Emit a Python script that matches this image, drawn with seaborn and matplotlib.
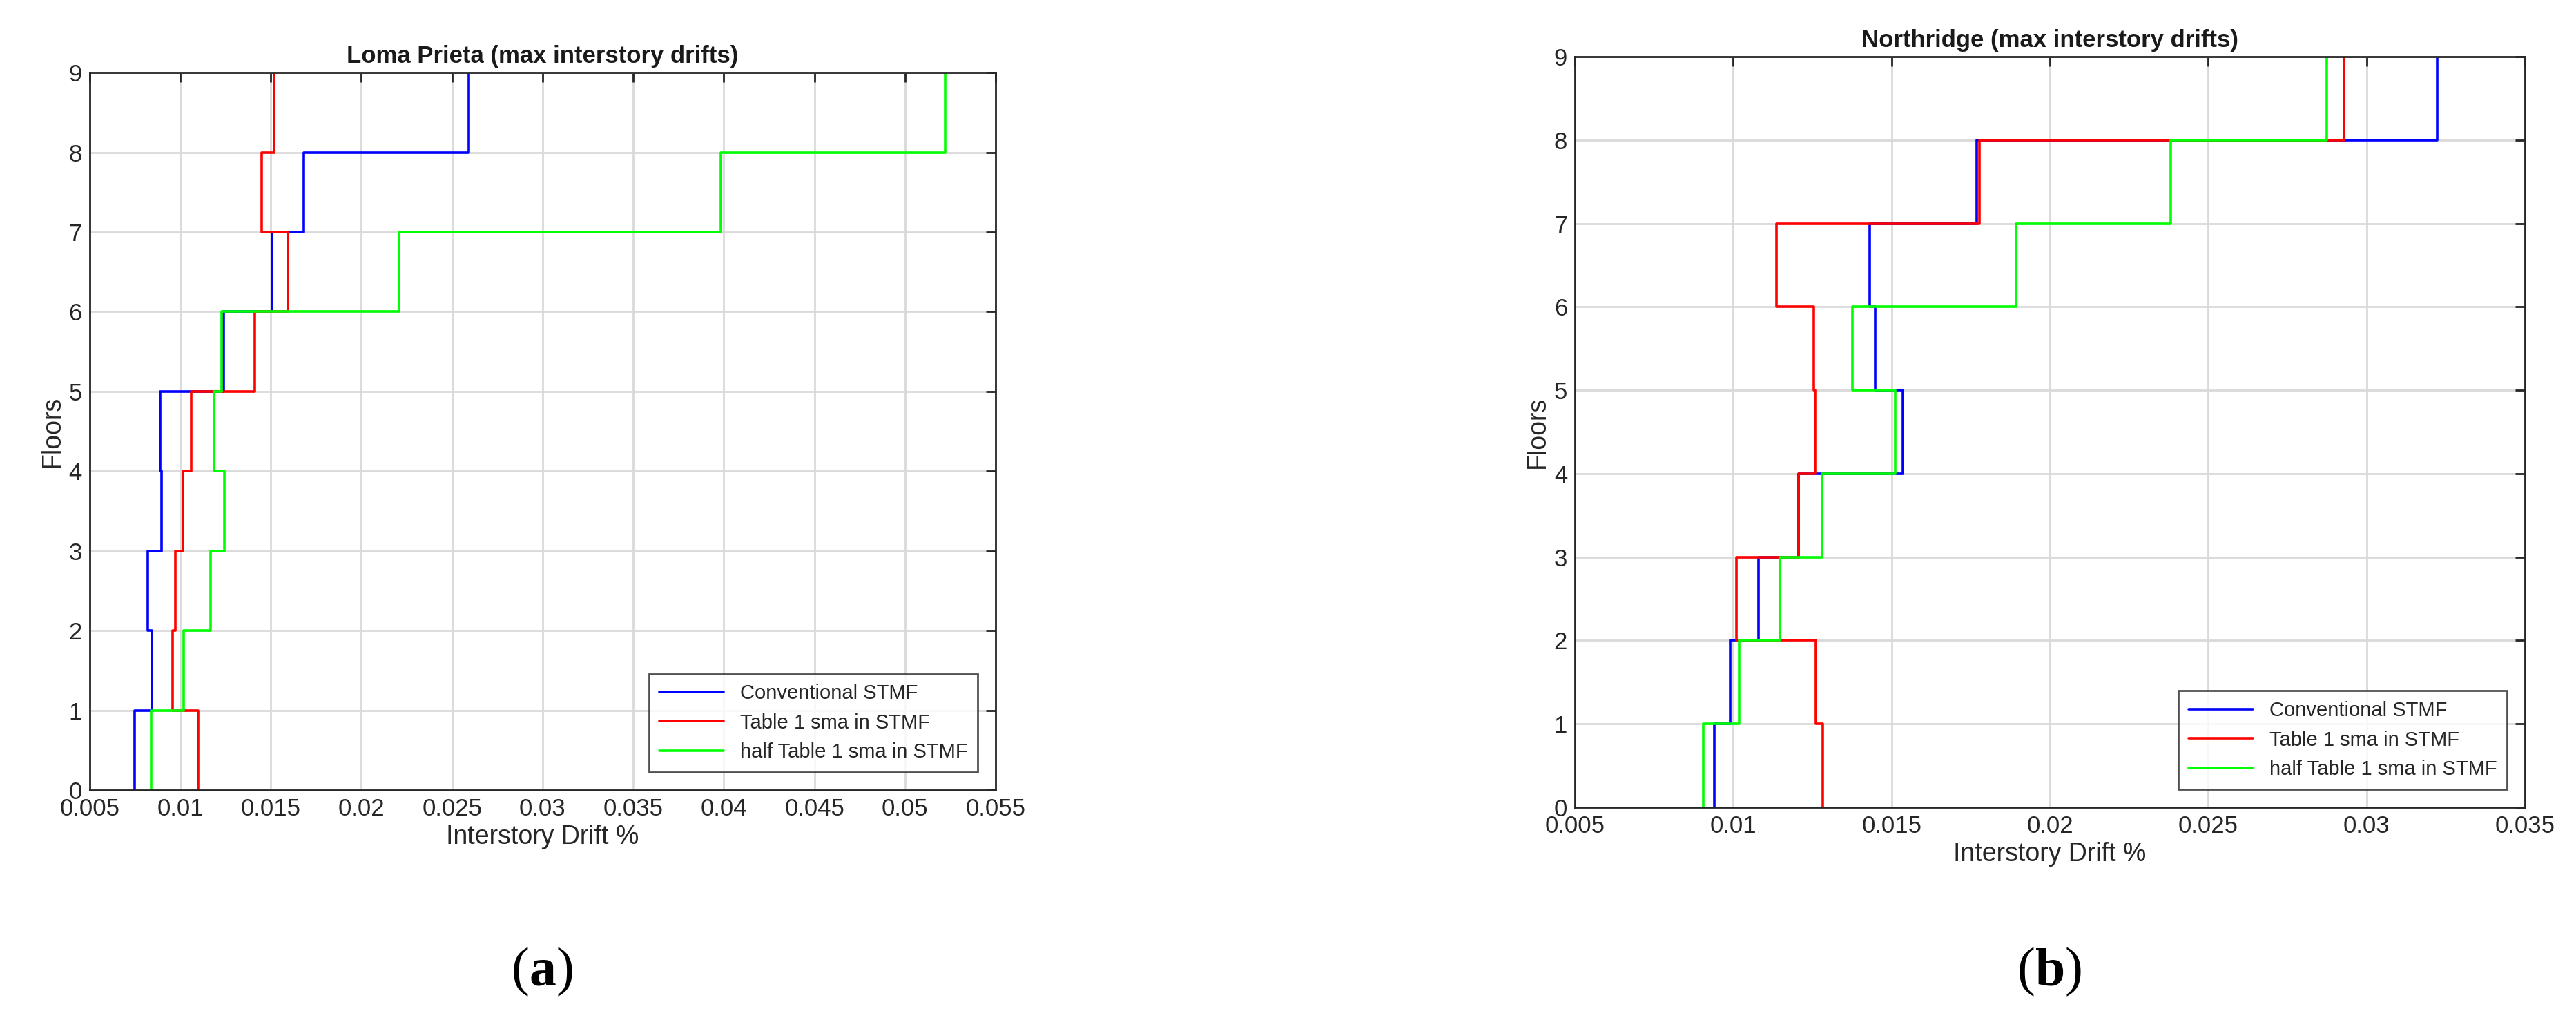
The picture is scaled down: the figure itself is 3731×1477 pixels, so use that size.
import matplotlib
matplotlib.use("Agg")
import matplotlib.pyplot as plt
import seaborn as sns
import pandas as pd
import numpy as np

floors = list(range(10))
series_names = ["Conventional STMF", "Table 1 sma in STMF", "half Table 1 sma in STMF"]
colors = ["#0000ff", "#ff0000", "#00ff00"]

# drift per storey segment (floor i to i+1)
loma_conv = [0.00749, 0.00843, 0.00819, 0.00895, 0.00889, 0.01238, 0.01505, 0.01682, 0.02593]
loma_t1 = [0.01098, 0.00959, 0.00974, 0.01016, 0.01062, 0.01411, 0.01594, 0.01451, 0.01518]
loma_half = [0.0084, 0.01019, 0.01168, 0.01244, 0.01187, 0.01229, 0.02207, 0.03984, 0.0522]

north_conv = [0.0094, 0.0099, 0.01079, 0.01206, 0.01535, 0.01448, 0.0143, 0.01769, 0.03222]
north_t1 = [0.01283, 0.01261, 0.0101, 0.01206, 0.01259, 0.01253, 0.01136, 0.01777, 0.02929]
north_half = [0.00906, 0.01019, 0.01148, 0.01281, 0.01511, 0.01376, 0.01892, 0.02381, 0.02873]

def step_frame(vals, name):
    xs, ys = [], []
    for i, v in enumerate(vals):
        xs += [v, v]
        ys += [floors[i], floors[i + 1]]
    return pd.DataFrame({"x": xs, "y": ys, "s": name})

sns.set_theme(style="white")
plt.rcParams['font.family'] = ['Liberation Sans', 'DejaVu Sans']

fig = plt.figure(figsize=(37.31, 14.77), dpi=100)
ax1 = fig.add_axes([0.0348, 0.2254, 0.3517, 0.7034])
ax2 = fig.add_axes([0.6114, 0.2085, 0.3688, 0.7360])

panels = [
    (ax1, [loma_conv, loma_t1, loma_half], "Loma Prieta (max interstory drifts)",
     np.arange(0.005, 0.0551, 0.005), ["0.005", "0.01", "0.015", "0.02", "0.025", "0.03", "0.035", "0.04", "0.045", "0.05", "0.055"], "a"),
    (ax2, [north_conv, north_t1, north_half], "Northridge (max interstory drifts)",
     np.arange(0.005, 0.0351, 0.005), ["0.005", "0.01", "0.015", "0.02", "0.025", "0.03", "0.035"], "b"),
]

captions = []
for ax, data, title, xt, xtl, cap in panels:
    df = pd.concat([step_frame(v, n) for v, n in zip(data, series_names)], ignore_index=True)
    sns.lineplot(data=df, x="x", y="y", hue="s", palette=colors, sort=False,
                 estimator=None, ax=ax, linewidth=2.6)
    ax.set_xlim(xt[0], xt[-1])
    ax.set_ylim(0, 9)
    ax.set_xticks(xt)
    ax.set_xticklabels(xtl)
    ax.set_yticks(floors)
    ax.grid(True, color="#d9d9d9", linewidth=2)
    ax.tick_params(direction="in", length=10, width=2, top=True, right=True,
                   labelsize=25, colors="#262626", pad=8)
    for sp in ax.spines.values():
        sp.set_color("#262626")
        sp.set_linewidth(2)
    ax.set_title(title, fontsize=25, fontweight="bold", color="#1a1a1a", pad=10)
    ax.set_xlabel("Interstory Drift %", fontsize=27, color="#262626", labelpad=4)
    ax.set_ylabel("Floors", fontsize=27, color="#262626", labelpad=4)
    leg = ax.legend(loc="lower right", fontsize=21, frameon=True, fancybox=False,
                    handlelength=3.2, borderpad=0.5, borderaxespad=0.9)
    leg.get_frame().set_edgecolor("#262626")
    leg.get_frame().set_linewidth(2)
    for h in leg.get_lines():
        h.set_linewidth(2.6)
    pos = ax.get_position()
    captions.append((pos.x0 + pos.width / 2, cap))

fig.canvas.draw()
r = fig.canvas.get_renderer()
W = fig.bbox.width
for xc, cap in captions:
    y = 0.047
    mid = fig.text(xc, y, cap, fontsize=56, family="Liberation Serif", fontweight="bold",
                   ha="center", va="center", color="black")
    w = mid.get_window_extent(r).width / W
    fig.text(xc - w / 2, y, "(", fontsize=56, family="Liberation Serif", ha="right", va="center", color="black")
    fig.text(xc + w / 2, y, ")", fontsize=56, family="Liberation Serif", ha="left", va="center", color="black")

fig.savefig("out.png", dpi=100)
